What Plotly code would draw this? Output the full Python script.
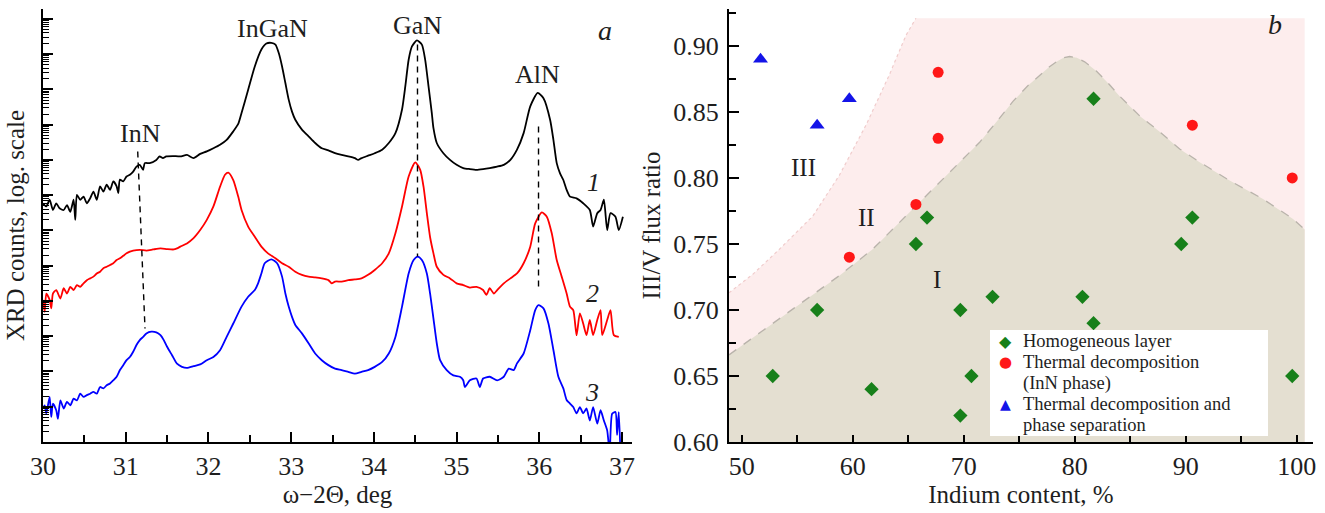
import plotly.graph_objects as go

# ---------------- panel a : XRD curves (log10 counts) ----------------
curve1_x = [30.00,30.04,30.08,30.12,30.16,30.20,30.25,30.29,30.33,30.37,30.39,30.41,30.45,30.49,30.53,30.57,
            30.61,30.65,30.69,30.73,30.77,30.81,30.85,30.89,30.91,30.93,30.97,31.01,31.05,31.09,31.13,31.17,
            31.21,31.23,31.29,31.37,31.41,31.45,31.49,31.57,31.66,31.74,31.82,31.90,31.98,32.06,32.14,32.22,
            32.30,32.36,32.40,32.48,32.56,32.64,32.70,32.76,32.81,32.85,32.89,32.93,32.97,33.01,33.05,33.13,
            33.21,33.29,33.37,33.45,33.53,33.61,33.69,33.77,33.81,33.85,33.93,34.01,34.10,34.18,34.26,34.34,
            34.38,34.42,34.46,34.52,34.58,34.62,34.66,34.70,34.72,34.76,34.84,34.92,35.00,35.08,35.16,35.24,
            35.32,35.40,35.49,35.57,35.65,35.73,35.81,35.89,35.98,36.05,36.13,36.17,36.21,36.25,36.29,36.33,
            36.37,36.45,36.53,36.61,36.65,36.70,36.74,36.78,36.82,36.86,36.92,36.96,37.01]
curve1_log = [6.77,6.68,6.87,6.58,6.77,6.63,6.58,6.72,6.53,6.87,6.30,7.01,6.87,6.96,6.77,6.91,
              7.10,6.87,7.25,7.10,7.30,7.15,7.39,7.25,7.06,7.44,7.39,7.53,7.58,7.67,7.81,7.86,
              7.72,7.91,7.91,8.00,8.10,8.05,8.10,8.11,8.10,8.14,8.05,8.17,8.24,8.33,8.43,8.57,
              8.81,9.02,9.33,9.99,10.65,11.13,11.30,11.32,11.27,11.03,10.65,10.18,9.71,9.37,9.14,8.86,
              8.67,8.48,8.33,8.27,8.19,8.14,8.10,8.05,8.00,8.05,8.12,8.19,8.29,8.48,8.76,9.43,
              10.09,10.84,11.22,11.39,11.27,10.84,10.09,9.33,8.90,8.48,8.19,8.00,7.86,7.77,7.74,7.72,
              7.74,7.77,7.81,7.86,8.00,8.29,8.76,9.52,9.90,9.75,9.14,8.57,7.91,7.62,7.43,7.15,
              6.96,6.91,6.77,6.58,6.11,6.49,6.58,6.87,6.01,6.49,6.39,6.01,6.39]

curve2_x = [30.00,30.02,30.04,30.08,30.10,30.12,30.16,30.21,30.25,30.29,30.33,30.37,30.41,30.45,30.49,30.53,
            30.57,30.61,30.65,30.69,30.73,30.77,30.81,30.85,30.89,30.93,30.97,31.01,31.05,31.09,31.17,31.25,
            31.33,31.42,31.50,31.58,31.62,31.66,31.74,31.82,31.90,31.98,32.06,32.14,32.20,32.24,32.30,32.36,
            32.40,32.48,32.56,32.64,32.72,32.81,32.89,32.97,33.05,33.13,33.21,33.29,33.37,33.45,33.49,33.53,
            33.61,33.69,33.77,33.85,33.93,34.01,34.10,34.18,34.26,34.34,34.42,34.50,34.56,34.60,34.64,34.68,
            34.72,34.76,34.84,34.92,35.00,35.08,35.16,35.24,35.32,35.36,35.40,35.45,35.49,35.57,35.65,35.73,
            35.81,35.89,35.95,36.03,36.09,36.15,36.21,36.27,36.33,36.37,36.41,36.45,36.49,36.53,36.57,36.61,
            36.65,36.70,36.74,36.76,36.82,36.86,36.90,36.96]
curve2_log = [4.03,3.69,4.21,4.03,3.79,4.21,4.31,4.07,4.36,4.21,4.40,4.31,4.45,4.40,4.50,4.59,
              4.64,4.69,4.78,4.83,4.93,4.97,5.02,5.07,5.16,5.21,5.28,5.35,5.40,5.43,5.45,5.43,
              5.46,5.49,5.47,5.46,5.49,5.54,5.63,5.78,6.01,6.30,6.68,7.24,7.58,7.64,7.43,6.96,
              6.58,6.11,5.82,5.54,5.35,5.21,5.07,4.97,4.83,4.74,4.69,4.67,4.64,4.59,4.50,4.55,
              4.55,4.59,4.61,4.64,4.74,4.88,5.07,5.35,5.92,6.68,7.53,7.93,7.72,7.24,6.49,5.80,
              5.35,4.97,4.74,4.64,4.50,4.45,4.38,4.40,4.31,4.17,4.36,4.21,4.31,4.50,4.64,4.78,
              5.07,5.54,6.20,6.51,6.39,5.92,5.16,4.69,4.21,3.84,3.74,3.03,3.65,3.36,3.03,3.46,
              3.03,3.46,3.74,3.03,3.46,3.74,3.03,2.98]

curve3_x = [30.00,30.02,30.04,30.08,30.10,30.12,30.16,30.18,30.21,30.25,30.29,30.33,30.37,30.41,30.45,30.49,
            30.53,30.57,30.61,30.65,30.69,30.73,30.77,30.81,30.85,30.89,30.93,30.97,31.01,31.05,31.09,31.13,
            31.17,31.21,31.25,31.31,31.37,31.42,31.46,31.50,31.56,31.62,31.68,31.74,31.82,31.90,31.98,32.06,
            32.14,32.22,32.30,32.40,32.48,32.56,32.60,32.64,32.68,32.76,32.83,32.89,32.93,32.97,33.01,33.05,
            33.13,33.21,33.29,33.37,33.45,33.53,33.61,33.69,33.77,33.85,33.93,34.01,34.10,34.18,34.26,34.34,
            34.42,34.48,34.53,34.58,34.64,34.68,34.72,34.76,34.80,34.88,34.96,35.04,35.08,35.10,35.16,35.24,
            35.28,35.32,35.40,35.49,35.57,35.63,35.69,35.73,35.81,35.89,35.95,35.99,36.05,36.11,36.17,36.23,
            36.29,36.33,36.37,36.41,36.45,36.49,36.53,36.57,36.61,36.65,36.70,36.74,36.78,36.82,36.85,36.88,
            36.92,36.94,36.96,36.98]
curve3_log = [0.95,1.04,0.81,1.28,0.71,1.09,0.90,0.66,1.18,0.95,1.14,1.04,1.23,1.18,1.37,1.28,
              1.33,1.37,1.42,1.37,1.56,1.52,1.61,1.66,1.75,1.85,2.04,2.18,2.32,2.41,2.56,2.75,
              2.89,2.98,3.08,3.13,3.11,3.03,2.89,2.70,2.46,2.22,2.13,2.10,2.15,2.20,2.32,2.41,
              2.60,2.98,3.36,3.84,4.12,4.31,4.50,4.78,5.07,5.18,5.07,4.69,4.21,3.84,3.55,3.32,
              3.08,2.80,2.51,2.32,2.18,2.08,2.04,1.99,1.94,1.99,2.04,2.13,2.27,2.51,2.98,3.84,
              4.78,5.16,5.26,5.16,4.78,4.20,3.50,2.80,2.32,2.04,1.89,1.85,1.75,1.56,1.75,1.80,
              1.56,1.80,1.85,1.75,1.85,2.08,2.04,2.23,2.51,3.17,3.74,3.88,3.79,3.36,2.61,1.85,
              1.52,1.19,1.09,0.99,0.81,0.99,0.81,0.95,0.61,0.99,0.52,0.90,0.61,0.33,-0.30,0.80,
              0.85,0.20,0.85,-0.30]

# peak marker lines (x, log10 top, log10 bottom)
peak_lines_x = [[31.145, 31.233], [34.527, 34.527], [35.99, 35.99]]
peak_lines_log = [[8.24, 3.22], [11.27, 5.26], [8.95, 4.40]]

# ---------------- panel b : growth diagram ----------------
homog_x = [52.8, 56.8, 61.7, 65.7, 66.7, 69.7, 69.7, 70.7, 72.6, 80.7, 81.7, 81.7, 89.6, 90.6, 99.6]
homog_y = [0.65, 0.70, 0.64, 0.75, 0.77, 0.70, 0.62, 0.65, 0.71, 0.71, 0.69, 0.86, 0.75, 0.77, 0.65]
decomp_x = [59.7, 65.7, 67.7, 67.7, 90.6, 99.6]
decomp_y = [0.74, 0.78, 0.83, 0.88, 0.84, 0.80]
sep_x = [51.7, 56.8, 59.7]
sep_y = [0.89, 0.84, 0.86]

# region boundaries
regionI_x = [48.86, 52.0, 55.85, 58.8, 61.8, 64.2, 66.6, 69.0, 71.44, 73.2, 74.44, 75.8, 76.85, 77.7,
             78.35, 79.0, 79.55, 80.2, 80.9, 81.95, 83.0, 84.05, 85.86, 87.66, 89.46, 91.26, 93.96,
             96.97, 99.67, 100.72]
regionI_y = [0.666, 0.685, 0.708, 0.726, 0.746, 0.766, 0.786, 0.806, 0.827, 0.845, 0.858, 0.870, 0.878, 0.884,
             0.888, 0.891, 0.892, 0.891, 0.888, 0.881, 0.872, 0.862, 0.847, 0.835, 0.822, 0.812, 0.798,
             0.784, 0.769, 0.761]
regionII_x = [48.86, 51.0, 53.4, 56.4, 58.8, 61.2, 63.3, 64.8, 65.7]
regionII_y = [0.713, 0.727, 0.746, 0.771, 0.802, 0.840, 0.878, 0.908, 0.921]
region_right = 100.72
region_top = 0.921

legend_labels = ["Homogeneous layer", "Thermal decomposition", "(InN phase)",
                 "Thermal decomposition and", "phase separation"]

SERIF = "Liberation Serif"
TXT = "#1e1e1e"
W, H = 1325, 513


def px(x):
    return x / W


def py(y):
    return 1 - y / H


fig = go.Figure()

# ---- panel a traces ----
for xs, ls, col in [(curve1_x, curve1_log, "#000000"), (curve2_x, curve2_log, "#ff0000"),
                    (curve3_x, curve3_log, "#0000ff")]:
    fig.add_trace(go.Scatter(x=xs, y=[10 ** v for v in ls], mode="lines",
                             line=dict(color=col, width=1.8, shape="spline", smoothing=0.6),
                             xaxis="x", yaxis="y", showlegend=False, hoverinfo="skip"))
for xs, ls in zip(peak_lines_x, peak_lines_log):
    fig.add_trace(go.Scatter(x=xs, y=[10 ** v for v in ls], mode="lines",
                             line=dict(color="#000000", width=1.4, dash="6px,5px"),
                             xaxis="x", yaxis="y", showlegend=False, hoverinfo="skip"))

# ---- panel b region fills ----
fig.add_trace(go.Scatter(x=regionII_x + [region_right, region_right, regionII_x[0]],
                         y=regionII_y + [region_top, 0.60, 0.60],
                         fill="toself", fillcolor="#fdeded", mode="lines", line=dict(width=0),
                         xaxis="x2", yaxis="y2", showlegend=False, hoverinfo="skip"))
fig.add_trace(go.Scatter(x=regionII_x, y=regionII_y,
                         mode="lines", line=dict(color="#f0cccc", width=1.2, dash="dot"),
                         xaxis="x2", yaxis="y2", showlegend=False, hoverinfo="skip"))
fig.add_trace(go.Scatter(x=regionI_x + [region_right, regionI_x[0]], y=regionI_y + [0.60, 0.60],
                         fill="toself", fillcolor="#e4dfd1", mode="lines", line=dict(width=0),
                         xaxis="x2", yaxis="y2", showlegend=False, hoverinfo="skip"))
fig.add_trace(go.Scatter(x=regionI_x, y=regionI_y, mode="lines",
                         line=dict(color="#b9b3ab", width=1.3, dash="dash"),
                         xaxis="x2", yaxis="y2", showlegend=False, hoverinfo="skip"))

# ---- panel b markers ----
fig.add_trace(go.Scatter(x=homog_x, y=homog_y, mode="markers", name=legend_labels[0],
                         marker=dict(symbol="diamond", size=11, color="#17801a"),
                         xaxis="x2", yaxis="y2", showlegend=False))
fig.add_trace(go.Scatter(x=decomp_x, y=decomp_y, mode="markers", name="Thermal decomposition (InN phase)",
                         marker=dict(symbol="circle", size=11, color="#ff1818"),
                         xaxis="x2", yaxis="y2", showlegend=False))
fig.add_trace(go.Scatter(x=sep_x, y=sep_y, mode="markers",
                         name="Thermal decomposition and phase separation",
                         marker=dict(symbol="triangle-up", size=13, color="#1414e8"),
                         xaxis="x2", yaxis="y2", showlegend=False))

tickfont = dict(family=SERIF, size=26, color=TXT)
titlefont = dict(family=SERIF, size=25, color=TXT)
common = dict(showline=True, linecolor="#000000", linewidth=2, showgrid=False, zeroline=False,
              ticks="inside", tickcolor="#000000", tickwidth=1.5, automargin=False)

ydom = [py(442), py(9)]
fig.update_layout(
    template="none",
    width=W, height=H, margin=dict(l=0, r=0, t=0, b=0, autoexpand=False),
    paper_bgcolor="white", plot_bgcolor="white", showlegend=False,
    xaxis=dict(domain=[px(43), px(632)], range=[30, 37.12], anchor="y", dtick=1, tick0=30,
               ticklen=10, minor=dict(dtick=0.5, ticks="inside", ticklen=7, tickcolor="#000000", tickwidth=1.5),
               tickfont=tickfont, title=dict(text="ω−2Θ, deg", font=titlefont, standoff=2), **common),
    yaxis=dict(domain=ydom, type="log", range=[0, 12.28], anchor="x", dtick=1, showticklabels=False,
               ticklen=10, minor=dict(dtick="D1", ticks="inside", ticklen=6, tickcolor="#000000", tickwidth=1),
               title=dict(text="XRD counts, log. scale", font=titlefont, standoff=9), **common),
    xaxis2=dict(domain=[px(729), px(1313)], range=[48.86, 101.47], anchor="y2", dtick=10, tick0=50,
                ticklen=7, minor=dict(dtick=5, ticks="inside", ticklen=7, tickcolor="#000000", tickwidth=1.5),
                tickfont=tickfont, title=dict(text="Indium content, %", font=titlefont, standoff=2), **common),
    yaxis2=dict(domain=ydom, range=[0.60, 0.928], anchor="x2", dtick=0.05, tick0=0.6, tickformat=".2f",
                ticklen=10, ticklabelstandoff=3,
                minor=dict(dtick=0.025, ticks="inside", ticklen=7, tickcolor="#000000", tickwidth=1.5),
                tickfont=tickfont, title=dict(text="III/V flux ratio", font=titlefont, standoff=6), **common),
)

ann = []


def label(text, x, y, size=26, italic=False, color=TXT, xanchor="center", family=SERIF):
    ann.append(dict(text=f"<i>{text}</i>" if italic else text, x=x, y=y, xref="paper", yref="paper",
                    showarrow=False, xanchor=xanchor, yanchor="middle",
                    font=dict(family=family, size=size, color=color)))


label("InGaN", px(272), py(28))
label("GaN", px(417), py(25))
label("AlN", px(537), py(75))
label("InN", px(140), py(133))
label("a", px(605), py(31), size=28, italic=True)
label("1", px(593), py(182), italic=True)
label("2", px(592), py(293), italic=True)
label("3", px(592), py(392), italic=True)

for t, x, y in [("III", 55.55, 0.808), ("II", 61.26, 0.770), ("I", 67.57, 0.723)]:
    ann.append(dict(text=t, x=x, y=y, xref="x2", yref="y2", showarrow=False,
                    font=dict(family=SERIF, size=25, color=TXT)))
ann.append(dict(text="<i>b</i>", x=98.05, y=0.916, xref="x2", yref="y2", showarrow=False,
                font=dict(family=SERIF, size=28, color=TXT)))

# legend (drawn manually to get the tight line spacing of the original)
leg_rows = [341, 362, 383, 404, 425]
for t, y in zip(legend_labels, leg_rows):
    label(t, px(1021), py(y), size=18.5, xanchor="left")
label("◆", px(1005), py(leg_rows[0]), size=16, color="#17801a", family="DejaVu Sans")
label("●", px(1005), py(leg_rows[1]), size=15, color="#ff1818", family="DejaVu Sans")
label("▲", px(1005), py(leg_rows[3]), size=14, color="#1414e8", family="DejaVu Sans")

fig.update_layout(annotations=ann,
                  shapes=[dict(type="rect", xref="paper", yref="paper", x0=px(990), x1=px(1268),
                               y0=py(436), y1=py(330), fillcolor="white", line=dict(width=0),
                               layer="above")])

fig.write_html("out.html", config={"displayModeBar": False},
               post_script="document.body.style.margin='0px';document.body.style.overflow='hidden';")
